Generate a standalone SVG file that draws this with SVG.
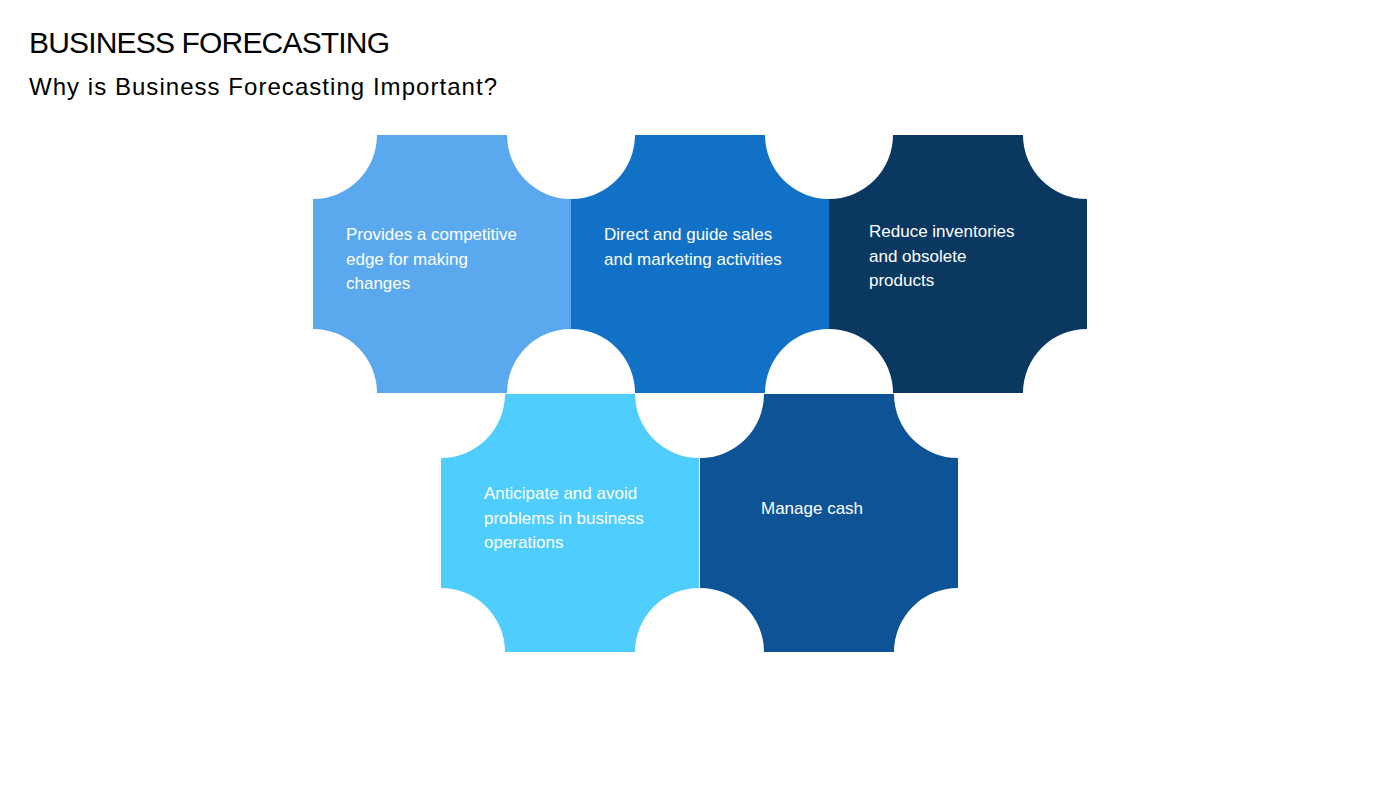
<svg xmlns="http://www.w3.org/2000/svg" width="1400" height="788" viewBox="0 0 1400 788">
<style>
.t{font-family:"Liberation Sans",Arial,sans-serif;fill:#fff;font-size:17px}
.h{font-family:"Liberation Sans",Arial,sans-serif;fill:#000}
</style>
<defs>
<path id="tile" d="M64,0 L194,0 A64,64 0 0 0 258,64 L258,194 A64,64 0 0 0 194,258 L64,258 A64,64 0 0 0 0,194 L0,64 A64,64 0 0 0 64,0 Z"/>
</defs>
<rect width="1400" height="788" fill="#fff"/>
<text class="h" x="29" y="53" font-size="30" textLength="361">BUSINESS FORECASTING</text>
<text class="h" x="29" y="95" font-size="24" textLength="468">Why is Business Forecasting Important?</text>
<g id="n1"><use href="#tile" x="313" y="135" fill="#5AA9EF"/>
<text class="t" x="346" y="240">Provides a competitive</text><text class="t" x="346" y="265">edge for making</text><text class="t" x="346" y="289">changes</text></g>
<g id="n2"><use href="#tile" x="571" y="135" fill="#1071C6"/>
<text class="t" x="604" y="240">Direct and guide sales</text><text class="t" x="604" y="265">and marketing activities</text></g>
<g id="n3"><use href="#tile" x="829" y="135" fill="#0A3861"/>
<text class="t" x="869" y="237">Reduce inventories</text><text class="t" x="869" y="262">and obsolete</text><text class="t" x="869" y="286">products</text></g>
<g id="n4"><use href="#tile" x="441" y="394" fill="#4FCDFD"/>
<text class="t" x="484" y="499">Anticipate and avoid</text><text class="t" x="484" y="524">problems in business</text><text class="t" x="484" y="548">operations</text></g>
<g id="n5"><use href="#tile" x="700" y="394" fill="#0E5396"/>
<text class="t" x="761" y="514">Manage cash</text></g>
<g id="connectors"/>
</svg>
